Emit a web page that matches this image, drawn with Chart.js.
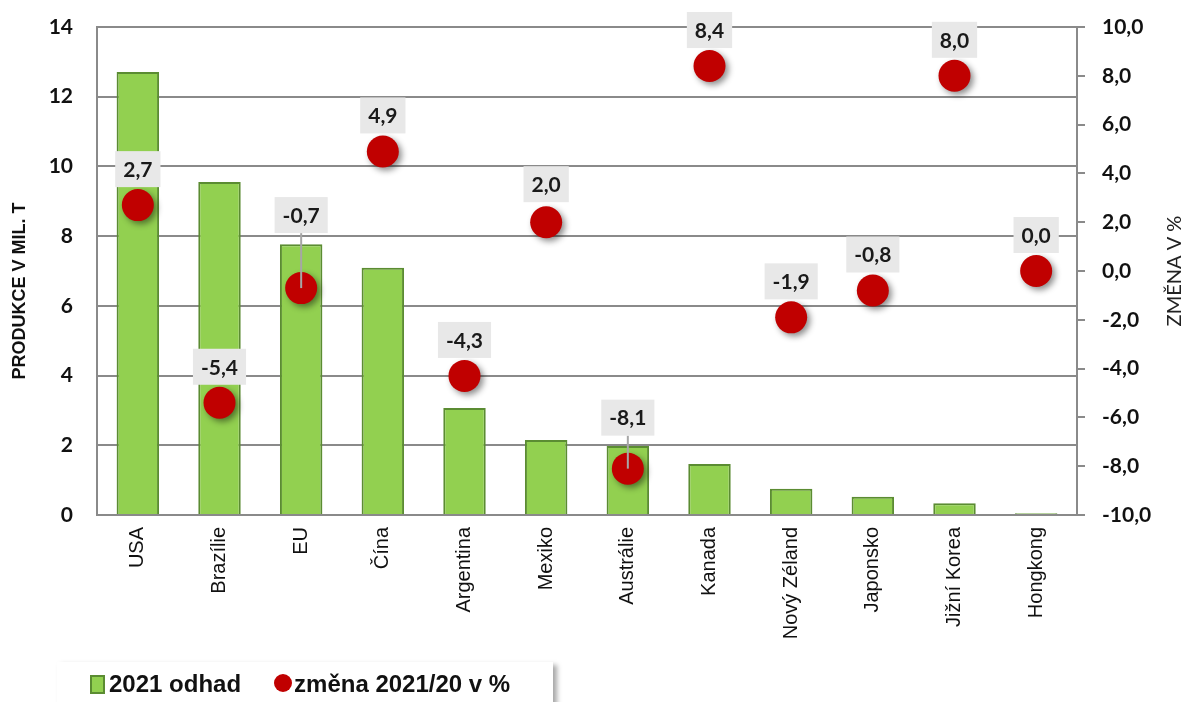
<!DOCTYPE html>
<html lang="cs">
<head>
<meta charset="UTF-8">
<title>Produkce 2021 odhad</title>
<script src="https://cdn.jsdelivr.net/npm/chart.js"></script>
<style>
  html, body { margin: 0; padding: 0; background: #fff; }
  #wrap { position: relative; width: 1187px; height: 702px; overflow: hidden; }
  #legend {
    position: absolute; left: 57px; top: 662px; width: 496px; height: 60px;
    background: #fff; box-shadow: 4px 3px 5px rgba(0,0,0,0.35);
    font: bold 24px "Liberation Sans", Arial, sans-serif; color: #111;
    display: flex; align-items: flex-start; padding-top: 8px; box-sizing: border-box;
  }
  #legend .sq { display: inline-block; width: 11px; height: 15px; background: #92d050; border: 2px solid #5b8c32; margin: 5px 4px 0 33px; }
  #legend .dot { display: inline-block; width: 18px; height: 18px; border-radius: 50%; background: #c00000; margin: 4px 2px 0 33px; }
</style>
</head>
<body>
<div id="wrap">
  <canvas id="chart" width="1187" height="702"></canvas>
  <div id="legend">
    <span class="sq"></span><span>2021 odhad</span>
    <span class="dot"></span><span>změna 2021/20 v %</span>
  </div>
</div>
<script>
// data
const countries = ['USA', 'Brazílie', 'EU', 'Čína', 'Argentina', 'Mexiko', 'Austrálie', 'Kanada', 'Nový Zéland', 'Japonsko', 'Jižní Korea', 'Hongkong'];
const production2021 = [12.71, 9.55, 7.77, 7.09, 3.07, 2.15, 1.98, 1.46, 0.75, 0.52, 0.34, 0.05];
const change2021 = [2.7, -5.4, -0.7, 4.9, -4.3, 2.0, -8.1, 8.4, -1.9, -0.8, 8.0, 0.0];

// how far each value label sits above its point (px)
const labelLift = [36, 36, 73, 36, 36, 38, 51, 36, 36, 36, 36, 36];

const grey = '#8a8a8a';
const fmt = v => v.toFixed(1).replace('.', ',');

const pointShadow = {
  id: 'pointShadow',
  beforeDatasetDraw(chart, args) {
    if (args.index !== 1) return;
    const ctx = chart.ctx;
    ctx.save();
    ctx.shadowColor = 'rgba(0,0,0,0.45)';
    ctx.shadowBlur = 6;
    ctx.shadowOffsetX = 3;
    ctx.shadowOffsetY = 3;
  },
  afterDatasetDraw(chart, args) {
    if (args.index === 1) chart.ctx.restore();
  }
};

const valueLabels = {
  id: 'valueLabels',
  afterDatasetsDraw(chart) {
    const ctx = chart.ctx;
    const meta = chart.getDatasetMeta(1);
    ctx.save();
    ctx.font = 'bold 21px Lato, sans-serif';
    ctx.textAlign = 'center';
    ctx.textBaseline = 'middle';
    meta.data.forEach((pt, i) => {
      const txt = fmt(change2021[i]);
      const w = ctx.measureText(txt).width + 16;
      const h = 36;
      const cy = pt.y - labelLift[i];
      if (labelLift[i] > 45) {
        ctx.strokeStyle = '#a6a6a6';
        ctx.lineWidth = 2;
        ctx.beginPath();
        ctx.moveTo(pt.x, cy + h / 2);
        ctx.lineTo(pt.x, pt.y);
        ctx.stroke();
      }
      ctx.fillStyle = '#e8e8e8';
      ctx.fillRect(pt.x - w / 2, cy - h / 2, w, h);
      ctx.fillStyle = '#1a1a1a';
      ctx.fillText(txt, pt.x, cy + 1);
    });
    ctx.restore();
  }
};

const axisTitles = {
  id: 'axisTitles',
  afterDraw(chart) {
    const ctx = chart.ctx;
    const mid = (chart.chartArea.top + chart.chartArea.bottom) / 2;
    ctx.save();
    ctx.textAlign = 'center';
    ctx.textBaseline = 'middle';
    ctx.fillStyle = '#111';
    ctx.translate(20, mid + 20);
    ctx.rotate(-Math.PI / 2);
    ctx.font = 'bold 18px "Liberation Sans", Arial, sans-serif';
    ctx.fillText('PRODUKCE V MIL. T', 0, 0);
    ctx.restore();
    ctx.save();
    ctx.textAlign = 'center';
    ctx.textBaseline = 'middle';
    ctx.fillStyle = '#222';
    ctx.translate(1175, mid);
    ctx.rotate(-Math.PI / 2);
    ctx.font = '20px Lato, sans-serif';
    ctx.fillText('ZMĚNA V %', 0, 0);
    ctx.restore();
  }
};

// fixed scale widths, no extra vertical padding from tick labels
const fixWidth = w => s => { s.width = w; s.paddingTop = 0; s.paddingBottom = 0; };

new Chart(document.getElementById('chart'), {
  data: {
    labels: countries,
    datasets: [
      {
        type: 'bar',
        label: '2021 odhad',
        data: production2021,
        yAxisID: 'y',
        backgroundColor: '#92d050',
        borderColor: '#5b8c32',
        borderWidth: 2,
        barPercentage: 0.52,
        categoryPercentage: 1,
        order: 1
      },
      {
        type: 'line',
        label: 'změna 2021/20 v %',
        data: change2021,
        yAxisID: 'y1',
        showLine: false,
        pointRadius: 16,
        pointHoverRadius: 16,
        pointBackgroundColor: '#c00000',
        pointBorderWidth: 0,
        order: 0
      }
    ]
  },
  options: {
    responsive: false,
    animation: false,
    layout: { padding: { top: 27, left: 0, right: 0, bottom: 0 } },
    plugins: { legend: { display: false }, tooltip: { enabled: false } },
    scales: {
      x: {
        grid: { display: false, drawTicks: false },
        border: { display: true, color: grey, width: 2 },
        ticks: {
          color: '#111', maxRotation: 90, minRotation: 90, padding: 12, autoSkip: false,
          font: { family: '"Liberation Sans", Arial, sans-serif', size: 20 }
        },
        afterFit: s => { s.height = 187; }
      },
      y: {
        position: 'left',
        min: 0, max: 14,
        ticks: {
          stepSize: 2, padding: 24, color: '#111',
          font: { family: 'Lato, sans-serif', size: 21, weight: 'bold' }
        },
        grid: { color: grey, lineWidth: 2, drawTicks: false },
        border: { color: grey, width: 2 },
        afterFit: fixWidth(97)
      },
      y1: {
        position: 'right',
        min: -10, max: 10,
        ticks: {
          stepSize: 2, padding: 17, color: '#111',
          font: { family: 'Lato, sans-serif', size: 21, weight: 'bold' },
          callback: v => fmt(v)
        },
        grid: { drawOnChartArea: false, drawTicks: true, tickLength: 8, color: grey, lineWidth: 2 },
        border: { color: grey, width: 2 },
        afterFit: fixWidth(110)
      }
    }
  },
  plugins: [pointShadow, valueLabels, axisTitles]
});
</script>
</body>
</html>
